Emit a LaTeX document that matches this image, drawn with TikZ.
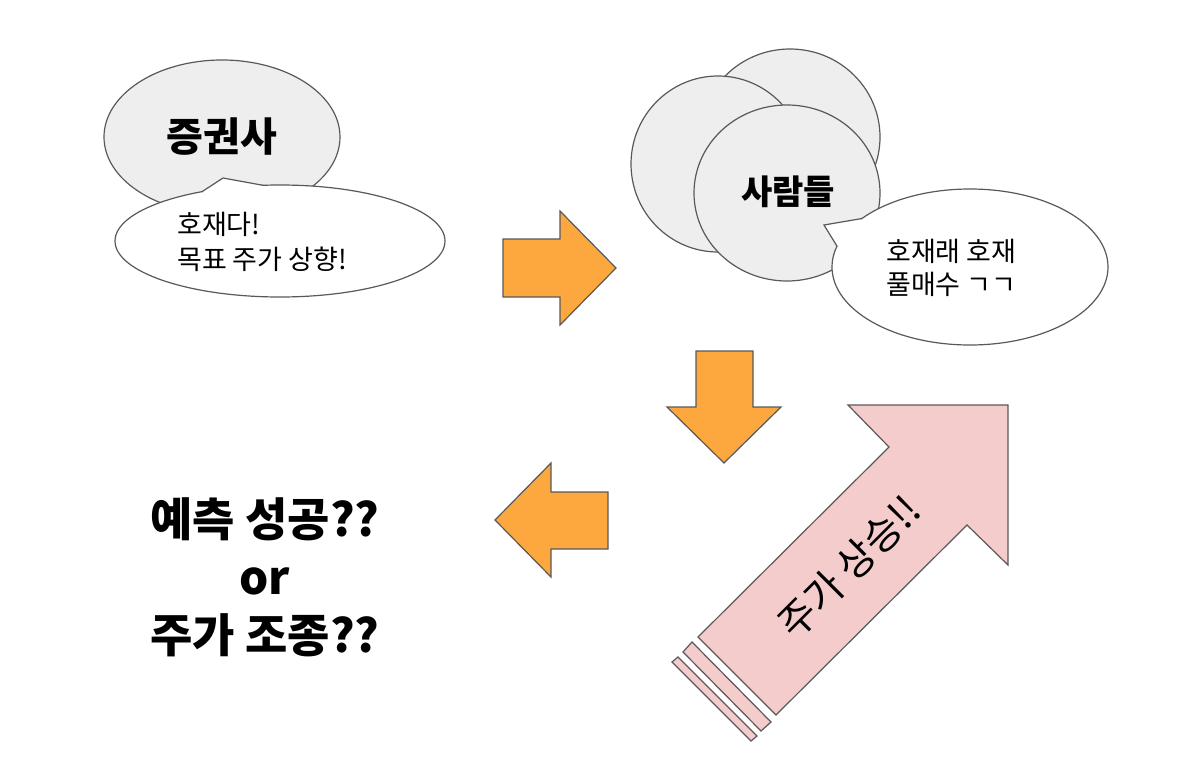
\documentclass[tikz,border=0pt]{standalone}
\usepackage{fontspec}
\setmainfont{Noto Sans CJK KR}
\definecolor{edge}{HTML}{595959}
\definecolor{bubblegray}{HTML}{EEEEEE}
\definecolor{arroworange}{HTML}{FCA83F}
\definecolor{arrowpink}{HTML}{F4CCCC}
\tikzset{
  outline/.style={draw=edge, line width=1.2pt, line join=miter},
  grayball/.style={outline, fill=bubblegray},
  whiteball/.style={outline, fill=white},
  orangearrow/.style={outline, fill=arroworange},
  pinkarrow/.style={outline, fill=arrowpink},
  smalltext/.style={align=left, inner sep=0pt, font=\fontsize{27}{35}\selectfont},
  titletext/.style={inner sep=0pt, font=\fontsize{40}{42}\selectfont\bfseries},
}
\begin{document}
\begin{tikzpicture}[x=1pt,y=-1pt]
\useasboundingbox (0,0) rectangle (1196,768);

% ---- left: 증권사 bubble ----
\draw[grayball] (222,137) ellipse [x radius=118, y radius=77];
\node[titletext] (secu) at (222,137) {증권사};
\draw[whiteball] (280,241) ellipse [x radius=165, y radius=56];
\fill[white] (223,178) -- (202,191.7) -- (232,200) -- (263,185.3) -- cycle;
\draw[outline] (202,191.7) -- (223,178) -- (263,185.3);
\node[smalltext, anchor=west] (news) at (177,242) {호재다!\\목표 주가 상향!};

% ---- right: 사람들 cluster ----
\draw[grayball] (790,137) ellipse [x radius=90, y radius=88];
\draw[grayball] (718,164) ellipse [x radius=87, y radius=88];
\draw[grayball] (787,193) ellipse [x radius=93, y radius=88];
\node[titletext, font=\fontsize{34}{36}\selectfont\bfseries] (people) at (788,192) {사람들};
\draw[whiteball] (970,267) ellipse [x radius=138, y radius=78];
\fill[white] (824,225) -- (862,218.5) -- (850,240) -- (837,246.2) -- cycle;
\draw[outline] (862,218.5) -- (824,225) -- (837,246.2);
\node[smalltext, anchor=west, font=\fontsize{27}{33}\selectfont] (buy) at (886,268) {호재래 호재\\풀매수 ㄱㄱ};

% ---- orange arrows ----
\draw[orangearrow] (503,239) -- (560,239) -- (560,211) -- (616,268) -- (560,325) -- (560,297) -- (503,297) -- cycle;
\draw[orangearrow] (696,351) -- (753,351) -- (753,407) -- (781,407) -- (724,463) -- (667,407) -- (696,407) -- cycle;
\draw[orangearrow] (608,492) -- (551,492) -- (551,463) -- (495,520) -- (551,577) -- (551,549) -- (608,549) -- cycle;

% ---- pink rising arrow ----
\draw[pinkarrow] (698,637) -- (889,447) -- (848,405) -- (1008,405) -- (1008,565) -- (967,525) -- (776,715) -- cycle;
\draw[pinkarrow] (692,642) -- (771,722) -- (761,731) -- (683,652) -- cycle;
\draw[pinkarrow] (678,657) -- (757,736) -- (751,741) -- (672,662) -- cycle;
\node[inner sep=0pt, rotate=45, font=\fontsize{40}{42}\selectfont] (rise) at (849,567) {주가 상승!!};

% ---- bottom-left question ----
\node[align=center, inner sep=0pt, font=\fontsize{46}{58}\selectfont\bfseries] (question) at (265,577) {예측 성공??\\or\\주가 조종??};
\end{tikzpicture}
\end{document}
